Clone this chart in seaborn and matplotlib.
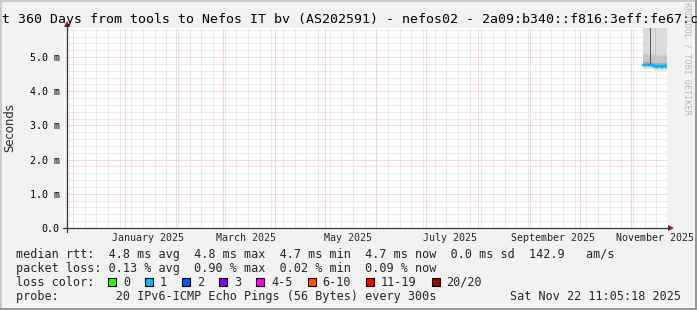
import matplotlib
matplotlib.use("Agg")
import matplotlib.pyplot as plt
import matplotlib.dates as mdates
from matplotlib.lines import Line2D
from matplotlib.patches import Rectangle
from matplotlib.ticker import MultipleLocator, NullFormatter
import pandas as pd
import seaborn as sns

# ---------------- data ----------------
title = "t 360 Days from tools to Nefos IT bv (AS202591) - nefos02 - 2a09:b340::f816:3eff:fe67:c"
range_start = "2024-11-27 11:05:18"
range_end = "2025-11-22 11:05:18"

bin_start = ["2025-11-08", "2025-11-09", "2025-11-10", "2025-11-11", "2025-11-12",
             "2025-11-13", "2025-11-14", "2025-11-15", "2025-11-16", "2025-11-17",
             "2025-11-18", "2025-11-19", "2025-11-20", "2025-11-21", "2025-11-22"]
median_ms = [4.78, 4.78, 4.77, 4.78, 4.78, 4.77, 4.73, 4.73, 4.72, 4.73, 4.73, 4.72, 4.73, 4.73, 4.72]
ping_p0 = [4.64, 4.65, 4.64, 4.65, 4.64, 4.64, 4.61, 4.60, 4.61, 4.60, 4.61, 4.60, 4.61, 4.60, 4.61]
ping_p10 = [4.71, 4.72, 4.71, 4.72, 4.71, 4.71, 4.67, 4.67, 4.66, 4.67, 4.67, 4.66, 4.67, 4.67, 4.66]
ping_p25 = [4.74, 4.75, 4.74, 4.75, 4.75, 4.74, 4.70, 4.70, 4.69, 4.70, 4.70, 4.69, 4.70, 4.70, 4.69]
ping_p40 = [4.77, 4.77, 4.76, 4.77, 4.77, 4.76, 4.72, 4.72, 4.71, 4.72, 4.72, 4.71, 4.72, 4.72, 4.71]
ping_p60 = [4.79, 4.79, 4.78, 4.79, 6.50, 4.78, 4.74, 4.74, 4.73, 4.74, 4.74, 4.73, 4.74, 4.74, 4.73]
ping_p75 = [4.86, 4.85, 4.86, 4.85, 6.50, 4.86, 4.82, 4.83, 4.82, 4.82, 4.83, 4.82, 4.82, 4.83, 4.82]
ping_p90 = [5.08, 5.06, 5.08, 5.07, 6.50, 5.08, 5.05, 6.50, 5.04, 5.05, 5.06, 5.04, 5.05, 5.05, 5.04]
ping_p100 = [6.9, 7.4, 6.8, 7.1, 9.5, 6.6, 7.0, 8.2, 6.7, 6.9, 7.3, 6.8, 7.0, 6.6, 6.9]
loss_per_bin = [1, 1, 1, 1, 1, 1, 1, 1, 1, 1, 1, 1, 1, 1, 1]

y_ticks = [0, 1, 2, 3, 4, 5]
y_labels = ["0.0", "1.0 m", "2.0 m", "3.0 m", "4.0 m", "5.0 m"]
y_max = 5.85
x_label_dates = ["2025-01-15", "2025-03-15", "2025-05-15", "2025-07-15", "2025-09-15", "2025-11-15"]
x_labels = ["January 2025", "March 2025", "May 2025", "July 2025", "September 2025", "November 2025"]

loss_names = ["0", "1", "2", "3", "4-5", "6-10", "11-19", "20/20"]
loss_colors = ["#26ff00", "#00b8ff", "#0059ff", "#7e00ff", "#ff00ff", "#ff5500", "#ff0000", "#a10000"]

rtt_stats = [4.8, 4.8, 4.7, 4.7, 0.0]
am_per_s = 142.9
loss_stats = [0.13, 0.90, 0.02, 0.09]
probe_text = "20 IPv6-ICMP Echo Pings (56 Bytes) every 300s"
stamp_text = "Sat Nov 22 11:05:18 2025"

# ---------------- figure ----------------
sns.set_style("white")
plt.rcParams["font.family"] = ["DejaVu Sans Mono", "DejaVu Sans"]

W, H = 697, 310
BG = "#f2f2f2"
fig = plt.figure(figsize=(W / 100, H / 100), dpi=100, facecolor=BG)


def fx(px):
    return px / W


def fy(py):
    return 1 - py / H


ax = fig.add_axes([fx(67), fy(228), 600 / W, 200 / H])
ax.set_facecolor("white")

x0 = mdates.date2num(pd.Timestamp(range_start))
x1 = mdates.date2num(pd.Timestamp(range_end))
bx = [mdates.date2num(pd.Timestamp(d)) for d in bin_start]

# smoke
layers = [(ping_p0, ping_p100, "#dcdcdc"),
          (ping_p10, ping_p90, "#c6c6c6"),
          (ping_p25, ping_p75, "#a9a9a9"),
          (ping_p40, ping_p60, "#575757")]
for lo, hi, col in layers:
    ax.bar(bx, [h - l for l, h in zip(lo, hi)], bottom=lo, width=1.0, align="edge",
           color=col, linewidth=0, zorder=2)

# median line (step)
df = pd.DataFrame({"t": bx + [bx[-1] + 1.0], "rtt": median_ms + [median_ms[-1]]})
med_color = loss_colors[max(set(loss_per_bin), key=loss_per_bin.count)]
sns.lineplot(data=df, x="t", y="rtt", drawstyle="steps-post", color=med_color,
             linewidth=1.7, ax=ax, zorder=3)

ax.set_xlim(x0, x1)
ax.set_ylim(0, y_max)
ax.set_xlabel("")
ax.set_ylabel("")

# grid
ax.xaxis.set_major_locator(mdates.MonthLocator(bymonthday=1))
ax.xaxis.set_minor_locator(mdates.WeekdayLocator(byweekday=mdates.SU))
ax.xaxis.set_major_formatter(NullFormatter())
ax.xaxis.set_minor_formatter(NullFormatter())
ax.set_yticks(y_ticks, labels=y_labels)
ax.yaxis.set_minor_locator(MultipleLocator(0.2))
dot = (0, (1, 1))
ax.grid(which="minor", color="#d8d8d8", linestyle=dot, linewidth=0.72)
ax.grid(which="major", color="#f3aeae", linestyle=dot, linewidth=0.72)
ax.set_axisbelow(True)
ax.tick_params(which="major", length=2.3, width=0.72, color="#333333", direction="out",
               labelsize=7.2, pad=3.0, labelcolor="black")
ax.tick_params(which="minor", length=1.4, width=0.72, color="#333333", direction="out")
for lbl in ax.get_yticklabels():
    lbl.set_family("DejaVu Sans Mono")
for s in ax.spines.values():
    s.set_visible(False)

# x labels
xt = ax.get_xaxis_transform()
for d, lab in zip(x_label_dates, x_labels):
    ax.text(mdates.date2num(pd.Timestamp(d)), -10 / 200, lab, transform=xt,
            ha="center", va="center", fontsize=7.2, family="DejaVu Sans Mono")

# axis lines with arrows
AX = "#333333"
ARROW = "#8b1a1a"
fig.add_artist(Line2D([fx(62.7), fx(670)], [fy(228.3), fy(228.3)], color=AX, lw=0.9))
fig.add_artist(Line2D([fx(66.7), fx(66.7)], [fy(231.5), fy(25)], color=AX, lw=0.9))
fig.add_artist(Line2D([fx(670.5)], [fy(228.3)], marker=">", markersize=4.2,
                      color=ARROW, markeredgewidth=0))
fig.add_artist(Line2D([fx(66.7)], [fy(24)], marker="^", markersize=4.2,
                      color=ARROW, markeredgewidth=0))

# texts
fig.text(fx(2), fy(19), title, fontsize=9.57, ha="left", va="center", color="black")
fig.text(fx(9.7), fy(128), "Seconds", rotation=90, fontsize=8.4, family="DejaVu Sans",
         ha="center", va="center")
fig.text(fx(686.5), fy(58.5), "RRDTOOL / TOBI OETIKER", rotation=270, fontsize=6.1,
         color="#b8b8b8", ha="center", va="center")

LF = 8.49
row1 = ("median rtt:  {:.1f} ms avg  {:.1f} ms max  {:.1f} ms min  {:.1f} ms now  "
        "{:.1f} ms sd  {:.1f}   am/s").format(*rtt_stats, am_per_s)
row2 = "packet loss: {:.2f} % avg  {:.2f} % max  {:.2f} % min  {:.2f} % now".format(*loss_stats)
fig.text(fx(16), fy(254.3), row1, fontsize=LF, va="center", ha="left")
fig.text(fx(16), fy(268.3), row2, fontsize=LF, va="center", ha="left")
fig.text(fx(16), fy(282.3), "loss color:", fontsize=LF, va="center", ha="left")
bxp = 108.0
for name, col in zip(loss_names, loss_colors):
    fig.add_artist(Rectangle((fx(bxp), fy(285.8)), 8 / W, 8 / H, facecolor=col,
                             edgecolor="black", linewidth=0.8, transform=fig.transFigure))
    fig.text(fx(bxp + 15), fy(282.3), name, fontsize=LF, va="center", ha="left")
    bxp += 30 + 7.1 * len(name)
fig.text(fx(16), fy(296.3), "probe:        " + probe_text, fontsize=LF, va="center", ha="left")
fig.text(fx(680.5), fy(296.3), stamp_text, fontsize=LF, va="center", ha="right")

# frame
fig.add_artist(Line2D([0, 1], [fy(0.5), fy(0.5)], color="#cbcbcb", lw=1.44))
fig.add_artist(Line2D([fx(0.5), fx(0.5)], [0, 1], color="#cbcbcb", lw=1.44))
fig.add_artist(Line2D([0, 1], [fy(309), fy(309)], color="#999999", lw=1.44))
fig.add_artist(Line2D([fx(696), fx(696)], [0, 1], color="#999999", lw=1.44))

fig.savefig("out.png", dpi=100, facecolor=BG)
